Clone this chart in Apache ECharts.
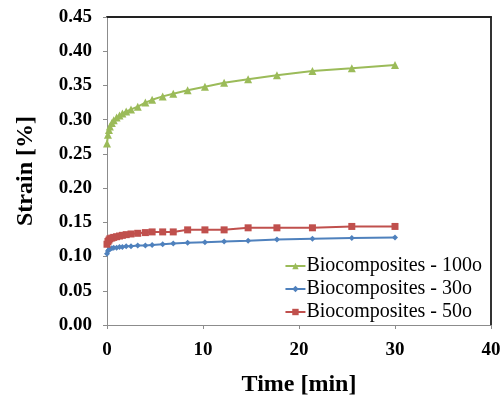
<!DOCTYPE html>
<html><head><meta charset="utf-8">
<script src="https://cdn.jsdelivr.net/npm/echarts@6/dist/echarts.min.js"></script>
<style>html,body{margin:0;padding:0;background:#fff}#c{width:501px;height:395px}</style>
</head><body><div id="c"></div>
<script>
var times = [0, 0.1, 0.2, 0.3, 0.5, 0.7, 1.0, 1.3, 1.6, 2.0, 2.5, 3.2, 4.0, 4.7, 5.8, 6.9, 8.4, 10.2, 12.2, 14.7, 17.7, 21.4, 25.5, 30];
var strain100 = [0.265, 0.278, 0.285, 0.290, 0.295, 0.299, 0.303, 0.306, 0.309, 0.312, 0.315, 0.319, 0.325, 0.329, 0.334, 0.338, 0.343, 0.348, 0.354, 0.359, 0.365, 0.371, 0.375, 0.380];
var strain30 = [0.104, 0.108, 0.110, 0.111, 0.112, 0.113, 0.113, 0.114, 0.114, 0.115, 0.115, 0.116, 0.116, 0.117, 0.118, 0.119, 0.120, 0.121, 0.122, 0.123, 0.125, 0.126, 0.127, 0.128];
var strain50 = [0.118, 0.122, 0.124, 0.126, 0.127, 0.128, 0.129, 0.130, 0.131, 0.132, 0.133, 0.134, 0.135, 0.136, 0.136, 0.136, 0.139, 0.139, 0.139, 0.142, 0.142, 0.142, 0.144, 0.144];
var seriesNames = ['Biocomposites - 100o', 'Biocomposites - 30o', 'Biocomposites - 50o'];
var xTitle = 'Time [min]';
var yTitle = 'Strain [%]';

function pairs(ys){ return times.map(function(t,i){ return [t, ys[i]]; }); }
var font = '"Liberation Serif","Times New Roman",serif';
var chart = echarts.init(document.getElementById('c'));
chart.setOption({
  animation: false,
  backgroundColor: '#fff',
  grid: {left: 107, right: 10, top: 17, bottom: 70, containLabel: false, outerBoundsMode: 'none'},
  legend: {
    orient: 'vertical', right: 19, top: 256, itemGap: 3, padding: 0,
    itemWidth: 20, itemHeight: 8,
    textStyle: {fontFamily: font, fontSize: 20, lineHeight: 20, color: '#000', padding: [0,0,0,-4]},
    data: seriesNames
  },
  xAxis: [{
    type: 'value', min: 0, max: 40, interval: 10,
    name: xTitle, nameLocation: 'middle', nameGap: 48,
    nameTextStyle: {fontFamily: font, fontSize: 24, fontWeight: 'bold', color: '#000'},
    axisLine: {onZero: false, lineStyle: {color: '#8c8c8c', width: 1}},
    axisTick: {show: true, length: 4, lineStyle: {color: '#8c8c8c'}},
    axisLabel: {fontFamily: font, fontSize: 19, fontWeight: 'bold', color: '#000', margin: 16},
    splitLine: {show: false}
  }, {
    type: 'value', min: 0, max: 40, position: 'top',
    axisLine: {show: true, onZero: false, lineStyle: {color: '#222', width: 2}},
    axisTick: {show: false}, axisLabel: {show: false}, splitLine: {show: false}
  }],
  yAxis: [{
    type: 'value', min: 0, max: 0.45, interval: 0.05,
    name: yTitle, nameLocation: 'middle', nameGap: 69, nameRotate: 90,
    nameTextStyle: {fontFamily: font, fontSize: 24, fontWeight: 'bold', color: '#000'},
    axisLine: {show: true, onZero: false, lineStyle: {color: '#8c8c8c', width: 1}},
    axisTick: {show: true, length: 4, lineStyle: {color: '#8c8c8c'}},
    axisLabel: {fontFamily: font, fontSize: 19, fontWeight: 'bold', color: '#000', margin: 15,
      formatter: function(v){ return v.toFixed(2); }},
    splitLine: {show: false}
  }, {
    type: 'value', min: 0, max: 0.45, position: 'right',
    axisLine: {show: true, onZero: false, lineStyle: {color: '#333', width: 2}},
    axisTick: {show: false}, axisLabel: {show: false}, splitLine: {show: false}
  }],
  series: [
    {name: seriesNames[0], type: 'line', data: pairs(strain100), symbol: 'triangle', symbolSize: 8,
     itemStyle: {color: '#9BBB59'}, lineStyle: {color: '#9BBB59', width: 2}},
    {name: seriesNames[1], type: 'line', data: pairs(strain30), symbol: 'diamond', symbolSize: 6,
     itemStyle: {color: '#4F81BD'}, lineStyle: {color: '#4F81BD', width: 2}},
    {name: seriesNames[2], type: 'line', data: pairs(strain50), symbol: 'rect', symbolSize: 7,
     itemStyle: {color: '#C0504D'}, lineStyle: {color: '#C0504D', width: 2}}
  ]
});
</script></body></html>
